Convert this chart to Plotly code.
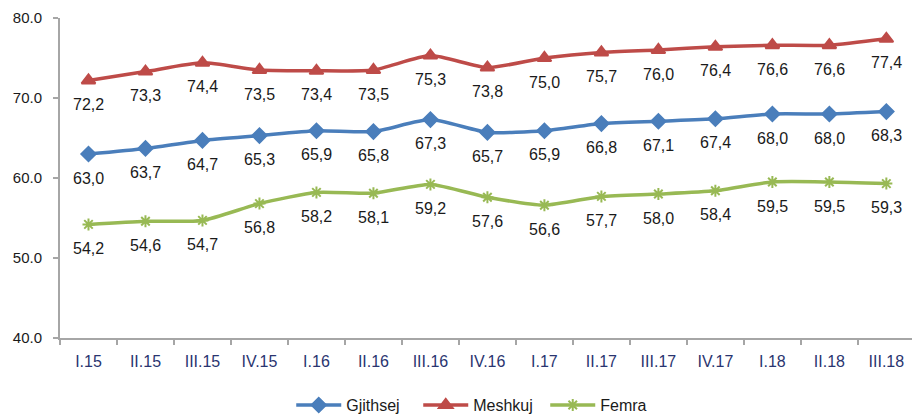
import plotly.graph_objects as go

categories = ["I.15", "II.15", "III.15", "IV.15", "I.16", "II.16", "III.16", "IV.16",
              "I.17", "II.17", "III.17", "IV.17", "I.18", "II.18", "III.18"]
gjithsej = [63.0, 63.7, 64.7, 65.3, 65.9, 65.8, 67.3, 65.7, 65.9, 66.8, 67.1, 67.4, 68.0, 68.0, 68.3]
meshkuj = [72.2, 73.3, 74.4, 73.5, 73.4, 73.5, 75.3, 73.8, 75.0, 75.7, 76.0, 76.4, 76.6, 76.6, 77.4]
femra = [54.2, 54.6, 54.7, 56.8, 58.2, 58.1, 59.2, 57.6, 56.6, 57.7, 58.0, 58.4, 59.5, 59.5, 59.3]
y_ticks = [40, 50, 60, 70, 80]

FONT = "Liberation Sans, Arial, sans-serif"

def lbl(v):
    return f"{v:.1f}".replace(".", ",")

series = [
    ("Gjithsej", gjithsej, "#4A7EBB", "diamond", 11),
    ("Meshkuj", meshkuj, "#BE4B48", "triangle-up", 12),
    ("Femra", femra, "#98B954", "asterisk-open", 10),
]

fig = go.Figure()
for name, vals, col, sym, ms in series:
    fig.add_trace(go.Scatter(
        x=categories, y=vals, name=name, mode="lines+markers",
        line=dict(color=col, width=3.5, shape="spline", smoothing=0.6),
        marker=dict(symbol=sym, size=ms, color=col, line=dict(color=col, width=2)),
        cliponaxis=False,
    ))
    for c, v in zip(categories, vals):
        fig.add_annotation(x=c, y=v, text=lbl(v), showarrow=False, yshift=-24,
                           xanchor="center", yanchor="middle",
                           font=dict(family=FONT, size=16, color="#1a1a1a"))

fig.update_layout(
    width=912, height=415,
    margin=dict(l=60, r=0, t=18, b=77),
    plot_bgcolor="white", paper_bgcolor="white",
    font=dict(family=FONT, size=15, color="#1a1a1a"),
    showlegend=True,
    legend=dict(orientation="h", x=0.495, xanchor="center",
                yref="container", y=0.024, yanchor="middle",
                font=dict(size=16, color="#1a1a1a"), tracegroupgap=0,
                entrywidth=67, itemwidth=45),
    xaxis=dict(
        type="category", range=[-0.5, 14.45], tickson="boundaries", automargin=False,
        showline=True, linecolor="#A6A6A6", linewidth=2,
        ticks="outside", ticklen=5, tickcolor="#A6A6A6", tickwidth=1.5,
        showgrid=False, zeroline=False, ticklabelstandoff=8,
        tickfont=dict(size=16, color="#2A3570"),
    ),
    yaxis=dict(
        range=[40, 80], tickvals=y_ticks, ticktext=[f"{v:.1f}" for v in y_ticks],
        automargin=False,
        showline=True, linecolor="#A6A6A6", linewidth=2,
        ticks="outside", ticklen=5, tickcolor="#A6A6A6", tickwidth=1.5,
        showgrid=False, zeroline=False, ticklabelstandoff=8,
        tickfont=dict(size=15, color="#1a1a1a"),
    ),
)

fig.write_html("out.html", config={"displayModeBar": False},
               post_script="document.body.style.margin='0';")
